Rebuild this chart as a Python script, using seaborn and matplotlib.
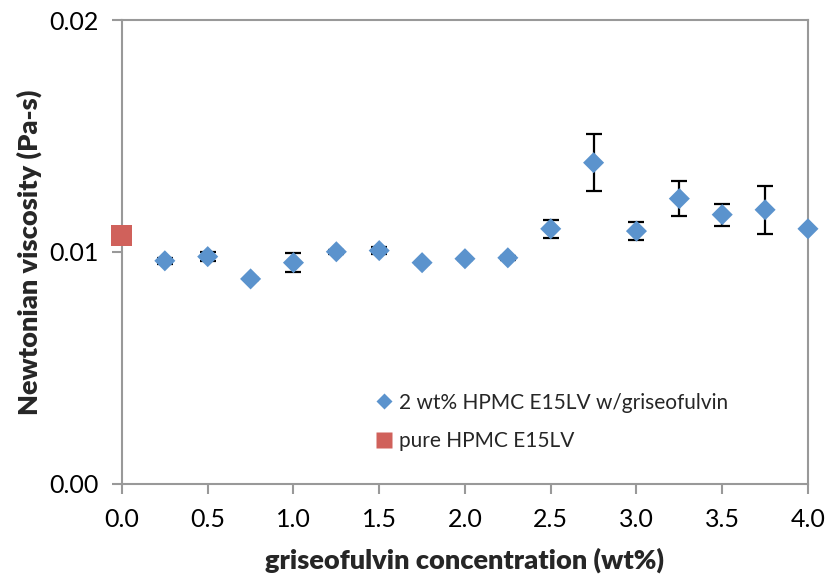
import matplotlib
matplotlib.use("Agg")
import matplotlib.pyplot as plt
import seaborn as sns
import pandas as pd
from matplotlib.lines import Line2D

conc = [0.25, 0.5, 0.75, 1.0, 1.25, 1.5, 1.75, 2.0, 2.25, 2.5, 2.75, 3.0, 3.25, 3.5, 3.75, 4.0]
visc = [0.00962, 0.00980, 0.00884, 0.00954, 0.01001, 0.01006, 0.00954, 0.00971,
        0.00975, 0.01100, 0.01385, 0.01090, 0.01230, 0.01161, 0.01182, 0.01100]
err = [0.00012, 0.00018, 0.00005, 0.00042, 0.00008, 0.00015, 0.00005, 0.00005,
       0.00008, 0.00040, 0.00122, 0.00039, 0.00076, 0.00047, 0.00103, 0.00005]
pure_conc = [0.0]
pure_visc = [0.0107]

label_mix = "2 wt% HPMC E15LV w/griseofulvin"
label_pure = "pure HPMC E15LV"
xticks = [0.0, 0.5, 1.0, 1.5, 2.0, 2.5, 3.0, 3.5, 4.0]
yticks = [0.00, 0.01, 0.02]

blue = "#5B93CD"
red = "#D0615B"

sns.set_theme(style="white")
plt.rcParams['font.family'] = ['Lato', 'DejaVu Sans']

fig = plt.figure(figsize=(8.28, 5.75), dpi=100)
ax = fig.add_axes([0.1473, 0.1583, 0.8285, 0.8069])

df = pd.DataFrame({"conc": conc, "visc": visc, "err": err})
dfp = pd.DataFrame({"conc": pure_conc, "visc": pure_visc})

ax.errorbar(df["conc"], df["visc"], yerr=df["err"], fmt="none", ecolor="black",
            elinewidth=1.6, capsize=6, capthick=1.6, zorder=2)
sns.scatterplot(data=df, x="conc", y="visc", marker="D", s=115, color=blue,
                edgecolor="none", ax=ax, zorder=3, clip_on=False)
sns.scatterplot(data=dfp, x="conc", y="visc", marker="s", s=230, color=red,
                edgecolor="none", ax=ax, zorder=3, clip_on=False)

ax.set_xlim(0, 4.0)
ax.set_ylim(0, 0.02)
ax.set_xticks(xticks)
ax.set_xticklabels([f"{t:.1f}" for t in xticks])
ax.set_yticks(yticks)
ax.set_yticklabels([f"{t:.2f}" for t in yticks])

for s in ax.spines.values():
    s.set_color("#999999")
    s.set_linewidth(1.5)
ax.tick_params(axis="both", which="major", direction="out", length=7, width=1.5,
               color="#999999", labelsize=18, labelcolor="black")
ax.tick_params(axis="x", pad=10)
ax.tick_params(axis="y", pad=10)
ax.tick_params(left=True, bottom=True)

ax.set_xlabel("griseofulvin concentration (wt%)", fontsize=19.5, fontweight="heavy", labelpad=12)
ax.set_ylabel("Newtonian viscosity (Pa-s)", fontsize=19.5, fontweight="heavy", labelpad=5)

handles = [Line2D([], [], marker="D", linestyle="none", color=blue, markersize=8, markeredgecolor="none"),
           Line2D([], [], marker="s", linestyle="none", color=red, markersize=11, markeredgecolor="none")]
ax.legend(handles, [label_mix, label_pure], loc="upper left", bbox_to_anchor=(0.355, 0.215),
          frameon=False, fontsize=15, handletextpad=0.2, labelspacing=0.9, handlelength=1.0,
          borderaxespad=0)

fig.savefig("out.png", dpi=100)
